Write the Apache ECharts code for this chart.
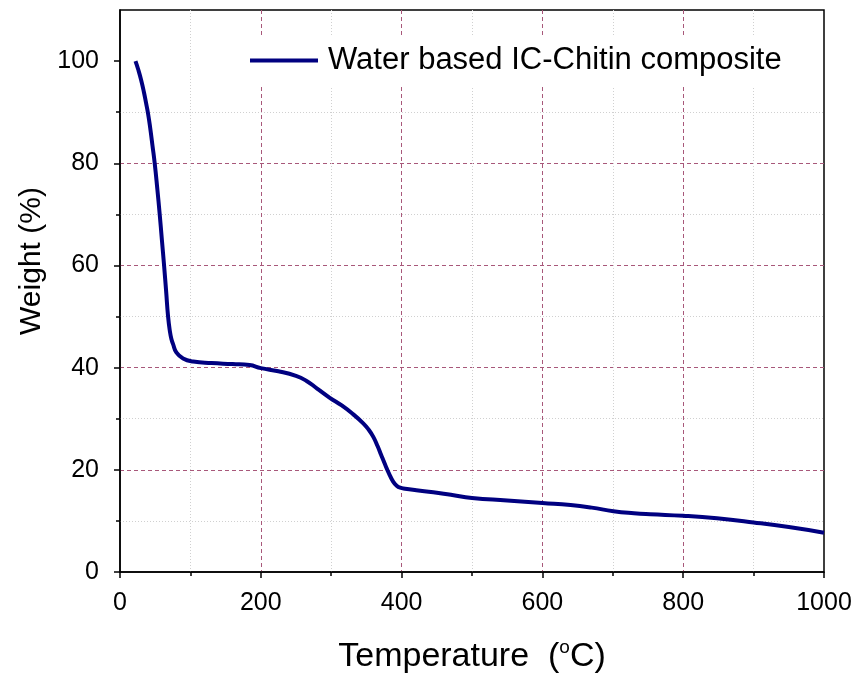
<!DOCTYPE html>
<html>
<head>
<meta charset="utf-8">
<script src="https://cdn.jsdelivr.net/npm/echarts@6/dist/echarts.min.js"></script>
<style>html,body{margin:0;padding:0;background:#fff;}#chart{width:857px;height:682px;}</style>
</head>
<body>
<div id="chart"></div>
<script>
// Temperature (°C)
var temperature = [22, 26, 30, 34, 37, 40, 43, 46.2, 49.3, 53, 56.4, 59.5, 62.6, 65.5, 68.3, 71, 73, 75.4, 80, 89.6, 104, 130, 160, 184, 200, 225, 250, 265, 280, 298, 315, 331, 345.5, 353, 360, 366, 371, 376.4, 382, 388, 393, 398, 405, 421, 445, 470, 500, 550, 600, 640, 670, 701, 730, 753, 800, 848, 900, 950, 1000];
// Weight (%)
var weight = [100, 98.3, 96.3, 93.9, 91.8, 89.6, 86.8, 83.4, 80, 75, 70, 65, 60, 55, 50, 47, 45.6, 44.6, 43.0, 41.8, 41.2, 40.9, 40.7, 40.5, 39.9, 39.3, 38.4, 37.4, 35.9, 34.1, 32.6, 30.9, 29.1, 27.9, 26.4, 24.6, 22.9, 21.1, 19.3, 17.7, 16.9, 16.5, 16.3, 16.0, 15.6, 15.1, 14.5, 14.0, 13.5, 13.1, 12.6, 11.9, 11.5, 11.3, 11.0, 10.5, 9.7, 8.8, 7.7];
var xTicks = [0, 200, 400, 600, 800, 1000];
var yTicks = [0, 20, 40, 60, 80, 100];
var seriesName = 'Water based IC-Chitin composite';

var pts = temperature.map(function (t, i) { return [t, weight[i]]; });
var font = 'Liberation Sans, Arial, sans-serif';
var majorGrid = {color: '#a8587a', width: 1, type: [4, 3]};
var minorGrid = {color: '#d0d0d0', width: 1, type: [1, 2]};
var chart = echarts.init(document.getElementById('chart'), null, {renderer: 'canvas'});
chart.setOption({
  animation: false,
  backgroundColor: '#fff',
  grid: {left: 120, right: 33, top: 10, bottom: 110, show: true, borderColor: '#000', borderWidth: 1.5, backgroundColor: 'transparent'},
  legend: {
    left: 238, top: 35, padding: [10, 16, 10, 12],
    backgroundColor: '#fff',
    icon: 'rect',
    itemWidth: 68, itemHeight: 4,
    data: [seriesName],
    textStyle: {fontFamily: font, fontSize: 31, color: '#000', padding: [0, 0, 0, 5]}
  },
  xAxis: {
    type: 'value', min: 0, max: 1000, interval: 200,
    name: '{t|Temperature  (}{s|o}{t|C)}',
    nameLocation: 'middle', nameGap: 66,
    nameTextStyle: {rich: {
      t: {fontFamily: font, fontSize: 34, color: '#000', lineHeight: 38},
      s: {fontFamily: font, fontSize: 19, color: '#000', verticalAlign: 'top', lineHeight: 19}
    }},
    axisLine: {show: true, lineStyle: {color: '#000', width: 1.5}},
    axisTick: {show: true, inside: false, length: 6, lineStyle: {color: '#000', width: 1.5}, customValues: xTicks},
    minorTick: {show: true, splitNumber: 2, length: 4, lineStyle: {color: '#000', width: 1.5}},
    axisLabel: {fontFamily: font, fontSize: 25, color: '#000', margin: 19, customValues: xTicks,
      formatter: function (v) { return String(v); }},
    splitLine: {show: true, showMinLine: false, showMaxLine: false, lineStyle: majorGrid},
    minorSplitLine: {show: true, lineStyle: minorGrid}
  },
  yAxis: {
    type: 'value', min: 0, max: 110, interval: 20,
    name: 'Weight (%)',
    nameLocation: 'middle', nameGap: 72,
    nameTextStyle: {fontFamily: font, fontSize: 30, color: '#000', padding: [0, 0, 0, 60]},
    axisLine: {show: true, lineStyle: {color: '#000', width: 1.5}},
    axisTick: {show: true, inside: false, length: 6, lineStyle: {color: '#000', width: 1.5}, customValues: yTicks},
    minorTick: {show: true, splitNumber: 2, length: 4, lineStyle: {color: '#000', width: 1.5}},
    axisLabel: {fontFamily: font, fontSize: 25, color: '#000', margin: 21, customValues: yTicks,
      formatter: function (v) { return String(v); }},
    splitLine: {show: true, showMinLine: false, showMaxLine: false, lineStyle: majorGrid},
    minorSplitLine: {show: true, lineStyle: minorGrid}
  },
  series: [{
    name: seriesName,
    type: 'line',
    data: pts,
    symbol: 'none',
    smooth: 0.5,
    lineStyle: {color: '#000080', width: 4},
    itemStyle: {color: '#000080'}
  }]
});
</script>
</body>
</html>
